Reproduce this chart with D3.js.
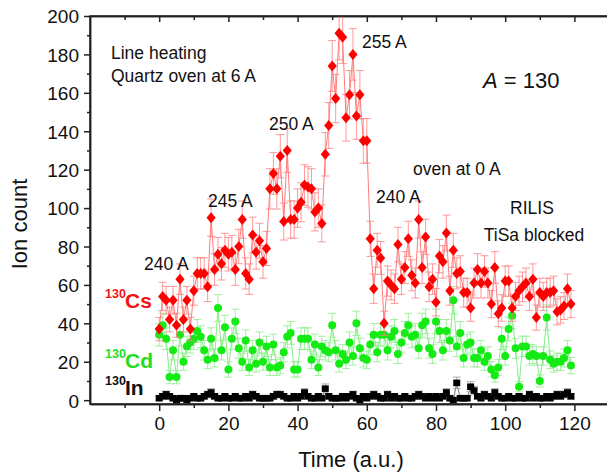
<!DOCTYPE html>
<html>
<head>
<meta charset="utf-8">
<script src="https://cdn.jsdelivr.net/npm/d3@7"></script>
<style>
body { margin: 0; background: #fff; }
svg text { font-family: Arial, "Liberation Sans", sans-serif; fill: #111; }
.axis path, .axis line { stroke: #222; }
</style>
</head>
<body>
<div id="chart"></div>
<script>
// ion counts per time step (a.u.)
const cs130 = [
    37, 54, 52, 42, 52, 39, 63, 42, 52, 37,
    57, 66, 66, 66, 59, 95, 68, 76, 71, 78,
    76, 77, 68, 80, 94, 66, 63, 86, 77, 83,
    72, 79, 110, 118, 110, 127, 93, 130, 94, 94,
    100, 103, 112, 111, 110, 98, 100, 92, 128, 143,
    174, 157, 191, 189, 147, 159, 180, 148, 159, 135,
    135, 84, 58, 78, 74, 40, 62, 60, 58, 81,
    63, 69, 84, 65, 61, 94, 69, 85, 59, 63,
    51, 75, 72, 87, 57, 78, 66, 67, 56, 56,
    48, 61, 68, 61, 67, 61, 50, 69, 45, 48,
    62, 62, 48, 54, 57, 59, 61, 54, 63, 43,
    56, 54, 56, 56, 57, 46, 47, 49, 58, 50
];
const cd130 = [
    34, 39, 32, 12, 26, 12, 34, 20, 28, 30,
    32, 36, 33, 26, 21, 32, 22, 48, 26, 38,
    16, 32, 41, 27, 20, 31, 17, 26, 19, 30,
    20, 28, 17, 29, 17, 18, 25, 33, 35, 16,
    16, 32, 32, 32, 21, 29, 17, 28, 26, 25,
    39, 26, 19, 24, 21, 30, 23, 40, 27, 22,
    21, 29, 34, 25, 34, 34, 26, 33, 36, 24,
    30, 35, 39, 33, 34, 27, 39, 41, 27, 24,
    41, 36, 26, 36, 31, 52, 28, 35, 22, 29,
    30, 22, 22, 26, 20, 23, 16, 13, 17, 32,
    23, 37, 44, 27, 7, 28, 28, 23, 24, 23,
    10, 23, 43, 21, 19, 20, 20, 22, 26, 18
];
const in130 = [
    1, 2, 3, 2, 1, 0, 1, 1, 0, 1,
    2, 1, 1, 2, 3, 4, 2, 1, 1, 2,
    1, 1, 2, 1, 1, 2, 1, 3, 2, 1,
    1, 1, 1, 2, 3, 3, 2, 1, 1, 2,
    1, 2, 4, 2, 1, 1, 2, 1, 6, 2,
    1, 1, 1, 2, 1, 2, 3, 1, 0, 2,
    1, 2, 3, 2, 1, 1, 3, 1, 2, 1,
    1, 2, 1, 1, 2, 3, 2, 1, 2, 1,
    2, 1, 2, 4, 1, 0, 9, 1, 1, 1,
    7, 5, 2, 1, 3, 2, 1, 4, 2, 1,
    1, 2, 1, 1, 2, 1, 1, 3, 1, 2,
    1, 1, 2, 1, 2, 3, 2, 3, 4, 2
];
const time = d3.range(cs130.length);

const xTicks = [0, 20, 40, 60, 80, 100, 120];
const yTicks = [0, 20, 40, 60, 80, 100, 120, 140, 160, 180, 200];

const notes = [
    {text: 'Line heating', x: 111, y: 59},
    {text: 'Quartz oven at 6 A', x: 111, y: 82},
    {text: '240 A', x: 144, y: 270},
    {text: '245 A', x: 208, y: 207},
    {text: '250 A', x: 269, y: 130},
    {text: '255 A', x: 362, y: 48},
    {text: 'oven at 0 A', x: 413, y: 175},
    {text: '240 A', x: 376, y: 203},
    {text: 'RILIS', x: 532, y: 214, anchor: 'middle'},
    {text: 'TiSa blocked', x: 534, y: 241, anchor: 'middle'}
];

const width = 607, height = 475;
const plot = {left: 90, right: 609, top: 16, bottom: 404};

const svg = d3.select('#chart').append('svg')
    .attr('width', width)
    .attr('height', height);
svg.append('rect').attr('width', width).attr('height', height).attr('fill', '#fff');

const x = d3.scaleLinear().domain([-20, 130]).range([plot.left, plot.right]);
const y = d3.scaleLinear().domain([-2, 200]).range([plot.bottom, plot.top]);

svg.append('clipPath').attr('id', 'clip')
    .append('rect')
    .attr('x', plot.left).attr('y', plot.top)
    .attr('width', plot.right - plot.left).attr('height', plot.bottom - plot.top);

// axes: outward ticks bottom/left, inward ticks top/right
const minorX = d3.range(-10, 131, 20);
const minorY = d3.range(10, 200, 20);

function addAxis(axis, transform) {
    const g = svg.append('g').attr('class', 'axis').attr('transform', transform).call(axis);
    g.selectAll('path, line').attr('stroke-width', 1.5);
    return g;
}

addAxis(d3.axisBottom(x).tickValues(xTicks).tickSize(7).tickSizeOuter(0).tickPadding(6),
        `translate(0,${plot.bottom})`)
    .selectAll('text').attr('font-size', 19).attr('fill', '#111');
addAxis(d3.axisBottom(x).tickValues(minorX).tickSize(4).tickSizeOuter(0).tickFormat(''),
        `translate(0,${plot.bottom})`);
addAxis(d3.axisLeft(y).tickValues(yTicks).tickSize(6).tickSizeOuter(0).tickPadding(5),
        `translate(${plot.left},0)`)
    .selectAll('text').attr('font-size', 19).attr('fill', '#111').attr('dy', '0.36em');
addAxis(d3.axisLeft(y).tickValues(minorY).tickSize(3).tickSizeOuter(0).tickFormat(''),
        `translate(${plot.left},0)`);

addAxis(d3.axisBottom(x).tickValues(xTicks).tickSize(6).tickSizeOuter(0).tickFormat(''),
        `translate(0,${plot.top})`);
addAxis(d3.axisBottom(x).tickValues(minorX).tickSize(4).tickSizeOuter(0).tickFormat(''),
        `translate(0,${plot.top})`);
addAxis(d3.axisLeft(y).tickValues(yTicks).tickSize(-5).tickSizeOuter(0).tickFormat(''),
        `translate(${plot.right},0)`);
addAxis(d3.axisLeft(y).tickValues(minorY).tickSize(-3).tickSizeOuter(0).tickFormat(''),
        `translate(${plot.right},0)`);

// series
const layer = svg.append('g').attr('clip-path', 'url(#clip)');

function drawSeries(values, opt) {
    const pts = values.map((v, i) => ({t: time[i], v: v}));
    const g = layer.append('g');
    g.append('path')
        .datum(pts)
        .attr('fill', 'none')
        .attr('stroke', opt.line)
        .attr('stroke-width', 0.8)
        .attr('d', d3.line().x(d => x(d.t)).y(d => y(d.v)));
    // poisson error bars, sqrt(N)
    g.append('g')
        .attr('stroke', opt.err)
        .attr('stroke-width', 0.8)
        .attr('fill', 'none')
        .selectAll('path')
        .data(pts)
        .join('path')
        .attr('d', d => {
            const e = Math.sqrt(d.v), cx = x(d.t), y0 = y(d.v + e), y1 = y(d.v - e), c = 4;
            return `M${cx - c},${y0}H${cx + c}M${cx},${y0}V${y1}M${cx - c},${y1}H${cx + c}`;
        });
    g.append('g')
        .selectAll('path')
        .data(pts)
        .join('path')
        .attr('transform', d => `translate(${x(d.t)},${y(d.v)})`)
        .attr('d', opt.shape)
        .attr('fill', opt.fill);
}

drawSeries(in130, {line: '#555', err: '#999', fill: '#000', shape: 'M-3.5,-3.3h7v6.6h-7Z'});
drawSeries(cd130, {line: '#66e866', err: '#8aee8a', fill: '#14ea14', shape: d3.symbol(d3.symbolCircle, 50)()});
drawSeries(cs130, {line: '#ff5a5a', err: '#ff8080', fill: '#ff0000', shape: 'M0,-5.5L4.6,0L0,5.5L-4.6,0Z'});

// frame
svg.append('path')
    .attr('d', `M${plot.left},${plot.bottom}V${plot.top}H${plot.right}V${plot.bottom}Z`)
    .attr('fill', 'none')
    .attr('stroke', '#222')
    .attr('stroke-width', 1.5);

// annotations
svg.selectAll('.note')
    .data(notes)
    .join('text')
    .attr('class', 'note')
    .attr('x', d => d.x)
    .attr('y', d => d.y)
    .attr('text-anchor', d => d.anchor || 'start')
    .attr('font-size', 17.5)
    .text(d => d.text);

const massLabel = svg.append('text').attr('x', 483).attr('y', 88).attr('font-size', 22);
massLabel.append('tspan').attr('font-style', 'italic').text('A');
massLabel.append('tspan').text(' = 130');

// series labels
const seriesLabels = [
    {sup: '130', name: 'Cs', color: '#f01515', y: 308},
    {sup: '130', name: 'Cd', color: '#22dd22', y: 368},
    {sup: '130', name: 'In', color: '#111', y: 395}
];
seriesLabels.forEach(s => {
    svg.append('text').attr('x', 105).attr('y', s.y - 10)
        .attr('font-size', 12.5).attr('font-weight', 'bold').style('fill', s.color).text(s.sup);
    svg.append('text').attr('x', 125).attr('y', s.y)
        .attr('font-size', 21).attr('font-weight', 'bold').style('fill', s.color).text(s.name);
});

// axis titles
svg.append('text')
    .attr('transform', `translate(27,224) rotate(-90)`)
    .attr('text-anchor', 'middle')
    .attr('font-size', 22)
    .text('Ion count');
svg.append('text')
    .attr('x', 351)
    .attr('y', 467)
    .attr('text-anchor', 'middle')
    .attr('font-size', 22)
    .text('Time (a.u.)');
</script>
</body>
</html>
